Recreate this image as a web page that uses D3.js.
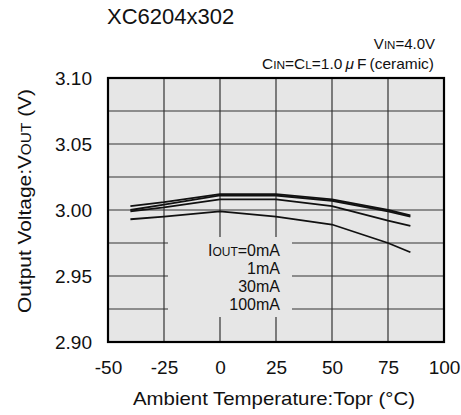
<!DOCTYPE html>
<html><head><meta charset="utf-8">
<script src="https://cdn.jsdelivr.net/npm/d3@7"></script>
<style>body{margin:0;background:#fff;}svg{display:block;font-family:"Liberation Sans",Arial,sans-serif;}</style>
</head><body>
<svg id="c" width="461" height="415"></svg>
<script>
const temps = [-40, -25, 0, 25, 50, 75, 85];
const seriesNames = ["0mA", "1mA", "30mA", "100mA"];
const v0mA   = [3.003, 3.006, 3.012, 3.012, 3.008, 3.000, 2.996];
const v1mA   = [3.000, 3.004, 3.011, 3.011, 3.007, 2.999, 2.995];
const v30mA  = [2.999, 3.002, 3.008, 3.008, 3.003, 2.992, 2.988];
const v100mA = [2.993, 2.995, 2.999, 2.995, 2.989, 2.975, 2.968];
const xTicks = [-50, -25, 0, 25, 50, 75, 100];
const yTicks = [2.90, 2.95, 3.00, 3.05, 3.10];
const yGrid = [2.925, 2.95, 2.975, 3.00, 3.025, 3.05, 3.075];

const svg = d3.select("#c");
const L = 108, R = 444, T = 78, B = 342;
const x = d3.scaleLinear().domain([-50, 100]).range([L, R]);
const y = d3.scaleLinear().domain([2.90, 3.10]).range([B, T]);
const ink = "#111";

svg.append("rect").attr("x", L).attr("y", T).attr("width", R - L).attr("height", B - T).attr("fill", "#e6e6e6");

const grid = svg.append("g").attr("stroke", "#333").attr("stroke-width", 1.2);
xTicks.slice(1, -1).forEach(t => grid.append("line").attr("x1", x(t)).attr("x2", x(t)).attr("y1", T).attr("y2", B));
yGrid.forEach(t => grid.append("line").attr("x1", L).attr("x2", R).attr("y1", y(t)).attr("y2", y(t)));

// legend background box hiding grid
svg.append("rect").attr("x", 168).attr("y", 237).attr("width", 124).attr("height", 80).attr("fill", "#e6e6e6");

const all = [v0mA, v1mA, v30mA, v100mA];
const line = d3.line().x((d, i) => x(temps[i])).y(d => y(d));
all.forEach(vals => {
  svg.append("path").attr("d", line(vals)).attr("fill", "none").attr("stroke", ink).attr("stroke-width", 1.8);
});

svg.append("rect").attr("x", L).attr("y", T).attr("width", R - L).attr("height", B - T).attr("fill", "none").attr("stroke", "#000").attr("stroke-width", 2.2);

// axes (labels only)
const xa = svg.append("g").attr("transform", `translate(0,${B})`).call(d3.axisBottom(x).tickValues(xTicks).tickSize(0).tickPadding(19).tickFormat(d => String(d)));
xa.select(".domain").remove();
xa.selectAll("text").attr("font-size", 19).attr("fill", ink).attr("font-family", "Liberation Sans, Arial, sans-serif");
const ya = svg.append("g").attr("transform", `translate(${L},0)`).call(d3.axisLeft(y).tickValues(yTicks).tickSize(0).tickPadding(16).tickFormat(d3.format(".2f")));
ya.select(".domain").remove();
ya.selectAll("text").attr("font-size", 19).attr("fill", ink).attr("font-family", "Liberation Sans, Arial, sans-serif");

// legend text
const lg = svg.append("g").attr("font-size", 16).attr("fill", ink).attr("text-anchor", "end");
const lgY = [256, 274, 292, 310];
seriesNames.forEach((n, i) => {
  const t = lg.append("text").attr("x", 280).attr("y", lgY[i]);
  if (i === 0) {
    t.append("tspan").text("I");
    t.append("tspan").attr("font-size", 12).text("OUT");
    t.append("tspan").text("=" + n);
  } else t.text(n);
});

// title & conditions
svg.append("text").attr("x", 107).attr("y", 24).attr("font-size", 22).attr("fill", ink).text("XC6204x302");
const c1 = svg.append("text").attr("x", 435).attr("y", 49).attr("font-size", 15).attr("text-anchor", "end").attr("fill", ink);
c1.append("tspan").text("V"); c1.append("tspan").attr("font-size", 11.5).text("IN"); c1.append("tspan").text("=4.0V");
const c2 = svg.append("text").attr("x", 434).attr("y", 69).attr("font-size", 15).attr("text-anchor", "end").attr("fill", ink)
  .attr("textLength", 172).attr("lengthAdjust", "spacingAndGlyphs");
c2.append("tspan").text("C"); c2.append("tspan").attr("font-size", 11.5).text("IN");
c2.append("tspan").text("=C"); c2.append("tspan").attr("font-size", 11.5).text("L");
c2.append("tspan").text("=1.0\u2009");
c2.append("tspan").attr("font-style", "italic").text("\u03bc");
c2.append("tspan").text("\u2009F\u2009(ceramic)");

// axis titles
svg.append("text").attr("x", 274).attr("y", 405).attr("text-anchor", "middle").attr("font-size", 19).attr("fill", ink)
  .attr("textLength", 282).attr("lengthAdjust", "spacingAndGlyphs").text("Ambient Temperature:Topr (\u00b0C)");
const yl = svg.append("text").attr("transform", "translate(31,201) rotate(-90)").attr("text-anchor", "middle").attr("font-size", 19).attr("fill", ink)
  .attr("textLength", 224).attr("lengthAdjust", "spacingAndGlyphs");
yl.append("tspan").text("Output Voltage:V"); yl.append("tspan").attr("font-size", 14).text("OUT"); yl.append("tspan").text(" (V)");
</script>
</body></html>
